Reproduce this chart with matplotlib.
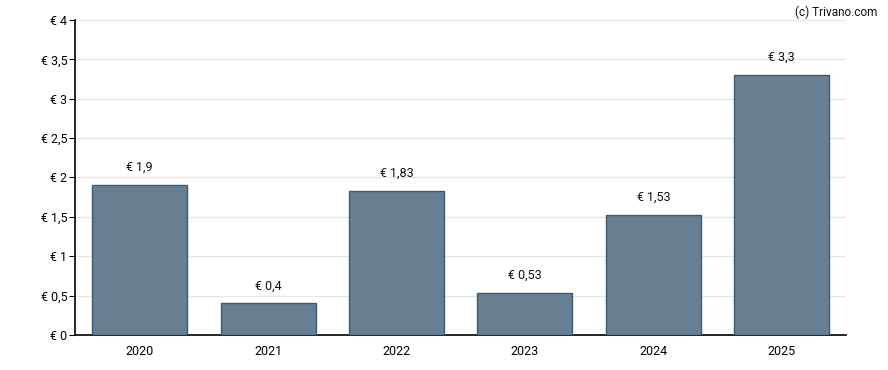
import matplotlib.pyplot as plt

plt.rcParams['font.family'] = ['Roboto', 'DejaVu Sans']

years = ['2020', '2021', '2022', '2023', '2024', '2025']
values = [1.9, 0.4, 1.83, 0.53, 1.53, 3.3]
value_labels = ['€ 1,9', '€ 0,4', '€ 1,83', '€ 0,53', '€ 1,53', '€ 3,3']
y_ticks = [0, 0.5, 1, 1.5, 2, 2.5, 3, 3.5, 4]
y_tick_labels = ['€ 0', '€ 0,5', '€ 1', '€ 1,5', '€ 2', '€ 2,5', '€ 3', '€ 3,5', '€ 4']

fig = plt.figure(figsize=(8.88, 3.7), dpi=100)
ax = fig.add_axes([0.085, 0.0946, 0.8677, 0.8514])

x = range(len(years))
ax.bar(x, values, width=0.74, color='#667f92', edgecolor='#3f5a6e', linewidth=1, zorder=3)

for i, (v, lab) in enumerate(zip(values, value_labels)):
    ax.annotate(lab, (i, v), xytext=(0, 8), textcoords='offset points',
                ha='center', va='bottom', fontsize=9, color='#111111')

ax.set_xlim(-0.5, len(years) - 0.5)
ax.set_ylim(0, 4)
ax.set_xticks(list(x))
ax.set_xticklabels(years, fontsize=9)
ax.set_yticks(y_ticks)
ax.set_yticklabels(y_tick_labels, fontsize=9)
ax.tick_params(axis='x', length=0, pad=7)
ax.tick_params(axis='y', length=4, pad=2)

ax.grid(axis='y', color='#e6e6e6', linewidth=1, zorder=0)
ax.spines['top'].set_visible(False)
ax.spines['right'].set_visible(False)
ax.spines['left'].set_linewidth(1.2)
ax.spines['bottom'].set_linewidth(1.2)

fig.text(0.988, 0.985, '(c) Trivano.com', ha='right', va='top', fontsize=8.5, color='#111111')

fig.savefig('out.png', dpi=100)
